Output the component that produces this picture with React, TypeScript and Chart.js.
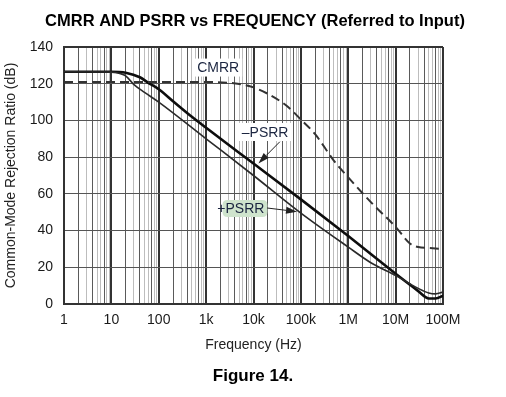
import React, { useEffect, useRef } from 'react';
import { Chart, registerables } from 'chart.js';

Chart.register(...registerables);

const TITLE = 'CMRR AND PSRR vs FREQUENCY (Referred to Input)';
const CAPTION = 'Figure 14.';
const X_TITLE = 'Frequency (Hz)';
const Y_TITLE = 'Common-Mode Rejection Ratio (dB)';

const X_DECADES = [1, 10, 100, 1e3, 1e4, 1e5, 1e6, 1e7, 1e8];
const X_TICK_LABELS = ['1', '10', '100', '1k', '10k', '100k', '1M', '10M', '100M'];
const Y_MIN = 0;
const Y_MAX = 140;
const Y_STEP = 20;

const CMRR_FREQ = [1, 10, 100, 1000, 3000, 5000, 10000, 20000, 50000, 100000, 200000, 500000, 1e6, 3e6, 1e7, 2e7, 3e7, 5e7, 1e8];
const CMRR_DB = [121, 121, 121, 121, 120.5, 119.8, 118, 114.5, 108, 100.5, 92.5, 78, 69, 55.5, 42, 33, 31, 30.5, 30];

const NPSRR_FREQ = [1, 10, 20, 40, 60, 100, 200, 500, 1000, 1e4, 1e5, 1e6, 1e7, 2e7, 3e7, 5e7, 7e7, 1e8];
const NPSRR_DB = [126.5, 126.5, 126, 123.5, 120.5, 117, 110.5, 102, 96, 76.5, 57, 37, 16.5, 10.5, 7, 3, 3, 4.5];

const PPSRR_FREQ = [1, 10, 15, 20, 30, 50, 100, 1000, 1e4, 1e5, 1e6, 3e6, 1e7, 2e7, 3e7, 5e7, 7e7, 1e8];
const PPSRR_DB = [126.5, 126.3, 125.6, 124.3, 119.5, 115.3, 110, 90, 70, 49.5, 31, 22.5, 15.5, 11, 8.5, 6, 5.5, 6.5];

// label anchors in data space: [freq, dB]
const CMRR_LABEL_AT = [1800, 128.8];
const NPSRR_LABEL_AT = [17600, 93.7];
const NPSRR_ARROW = [[36000, 88.4], [12700, 76.6]];
const PPSRR_LABEL_AT = [6600, 52];
const PPSRR_ARROW = [[19400, 52.3], [83000, 50.3]];

const FONT = '"Liberation Sans", Arial, Helvetica, sans-serif';

const GRID_VALUES: number[] = [];
for (let d = 1; d < 1e8; d *= 10) {
  for (let m = 1; m < 10; m++) GRID_VALUES.push(m * d);
}
GRID_VALUES.push(1e8);

function isDecade(v: number) {
  const lg = Math.log10(v);
  return Math.abs(lg - Math.round(lg)) < 1e-9;
}
function mantissa(v: number) {
  const p = Math.pow(10, Math.floor(Math.log10(v) + 1e-9));
  return Math.round(v / p);
}

function toPts(xs: number[], ys: number[]) {
  return xs.map((x, i) => ({ x, y: ys[i] }));
}

function drawArrow(ctx: CanvasRenderingContext2D, x1: number, y1: number, x2: number, y2: number) {
  const ang = Math.atan2(y2 - y1, x2 - x1);
  const len = 11;
  const w = 3.5;
  ctx.strokeStyle = '#222';
  ctx.fillStyle = '#222';
  ctx.lineWidth = 1;
  ctx.beginPath();
  ctx.moveTo(x1, y1);
  ctx.lineTo(x2 - Math.cos(ang) * len, y2 - Math.sin(ang) * len);
  ctx.stroke();
  ctx.beginPath();
  ctx.moveTo(x2, y2);
  ctx.lineTo(x2 - Math.cos(ang) * len - Math.sin(ang) * w, y2 - Math.sin(ang) * len + Math.cos(ang) * w);
  ctx.lineTo(x2 - Math.cos(ang) * len + Math.sin(ang) * w, y2 - Math.sin(ang) * len - Math.cos(ang) * w);
  ctx.closePath();
  ctx.fill();
}

function roundRect(ctx: CanvasRenderingContext2D, x: number, y: number, w: number, h: number, r: number) {
  ctx.beginPath();
  ctx.moveTo(x + r, y);
  ctx.lineTo(x + w - r, y);
  ctx.quadraticCurveTo(x + w, y, x + w, y + r);
  ctx.lineTo(x + w, y + h - r);
  ctx.quadraticCurveTo(x + w, y + h, x + w - r, y + h);
  ctx.lineTo(x + r, y + h);
  ctx.quadraticCurveTo(x, y + h, x, y + h - r);
  ctx.lineTo(x, y + r);
  ctx.quadraticCurveTo(x, y, x + r, y);
  ctx.closePath();
}

const overlay = {
  id: 'overlay',
  afterDatasetsDraw(chart: any) {
    const { ctx, scales } = chart;
    const xs = scales.x;
    const ys = scales.y;
    const px = (f: number) => xs.getPixelForValue(f);
    const py = (v: number) => ys.getPixelForValue(v);
    ctx.save();
    ctx.font = `14px ${FONT}`;
    ctx.textBaseline = 'middle';
    ctx.textAlign = 'center';
    const labelColor = '#1b2540';

    // CMRR
    {
      const cx = px(CMRR_LABEL_AT[0]);
      const cy = py(CMRR_LABEL_AT[1]);
      const w = ctx.measureText('CMRR').width + 6;
      ctx.fillStyle = '#fff';
      ctx.fillRect(cx - w / 2, cy - 9, w, 18);
      ctx.fillStyle = labelColor;
      ctx.fillText('CMRR', cx, cy + 1);
    }
    // -PSRR
    {
      const cx = px(NPSRR_LABEL_AT[0]);
      const cy = py(NPSRR_LABEL_AT[1]);
      const t = '\u2013PSRR';
      const w = ctx.measureText(t).width + 6;
      ctx.fillStyle = '#fff';
      ctx.fillRect(cx - w / 2, cy - 9, w, 18);
      ctx.fillStyle = labelColor;
      ctx.fillText(t, cx, cy + 1);
      const a = NPSRR_ARROW;
      drawArrow(ctx, px(a[0][0]), py(a[0][1]), px(a[1][0]), py(a[1][1]));
    }
    // +PSRR
    {
      const cx = px(PPSRR_LABEL_AT[0]);
      const cy = py(PPSRR_LABEL_AT[1]);
      const tw = ctx.measureText('PSRR').width;
      const pw = ctx.measureText('+').width;
      const bx = cx - tw / 2 - 3;
      ctx.fillStyle = '#cfe4cd';
      roundRect(ctx, bx, cy - 8.5, tw + 6, 17, 5);
      ctx.fill();
      ctx.fillStyle = labelColor;
      ctx.textAlign = 'left';
      ctx.fillText('+PSRR', cx - tw / 2 - pw, cy + 1);
      const a = PPSRR_ARROW;
      drawArrow(ctx, px(a[0][0]), py(a[0][1]), px(a[1][0]), py(a[1][1]));
    }
    ctx.restore();
  },
  afterDraw(chart: any) {
    const { ctx } = chart;
    ctx.save();
    ctx.fillStyle = '#000';
    ctx.textAlign = 'center';
    ctx.textBaseline = 'middle';
    ctx.font = `bold 16.5px ${FONT}`;
    ctx.fillText(TITLE, 255, 21);
    ctx.font = `bold 17px ${FONT}`;
    ctx.fillText(CAPTION, 253, 376);
    ctx.restore();
  },
};

export default function App() {
  const ref = useRef<HTMLCanvasElement | null>(null);
  useEffect(() => {
    if (!ref.current) return;
    const chart = new Chart(ref.current, {
      type: 'line',
      data: {
        datasets: [
          {
            label: 'CMRR',
            data: toPts(CMRR_FREQ, CMRR_DB),
            borderColor: '#333',
            borderWidth: 2,
            borderDash: [9, 5],
            pointRadius: 0,
            cubicInterpolationMode: 'monotone',
            fill: false,
          },
          {
            label: '+PSRR',
            data: toPts(PPSRR_FREQ, PPSRR_DB),
            borderColor: '#2a2a2a',
            borderWidth: 1.6,
            pointRadius: 0,
            cubicInterpolationMode: 'monotone',
            fill: false,
          },
          {
            label: '-PSRR',
            data: toPts(NPSRR_FREQ, NPSRR_DB),
            borderColor: '#0d0d0d',
            borderWidth: 2.6,
            pointRadius: 0,
            cubicInterpolationMode: 'monotone',
            fill: false,
          },
        ],
      },
      options: {
        responsive: false,
        devicePixelRatio: 1,
        animation: false,
        layout: { padding: { top: 47, right: 63, left: 0, bottom: 0 } },
        plugins: {
          legend: { display: false },
          tooltip: { enabled: false },
          title: { display: false },
        },
        scales: {
          x: {
            type: 'logarithmic',
            min: 1,
            max: 1e8,
            afterFit: (s: any) => {
              s.height = 93;
            },
            afterBuildTicks: (s: any) => {
              s.ticks = GRID_VALUES.map((v) => ({ value: v }));
            },
            ticks: {
              autoSkip: false,
              maxRotation: 0,
              minRotation: 0,
              padding: 8,
              color: '#1a1a1a',
              font: { family: FONT, size: 14 },
              callback: (value: any) => {
                const i = X_DECADES.findIndex((d) => Math.abs(d - Number(value)) < 1e-6 * d);
                return i >= 0 ? X_TICK_LABELS[i] : '';
              },
            },
            grid: {
              drawTicks: false,
              color: (c: any) => {
                const v = c.tick ? c.tick.value : 1;
                if (isDecade(v)) return '#333';
                const m = mantissa(v);
                return [2, 4, 7].includes(m) ? '#5a5a5a' : '#bdbdbd';
              },
              lineWidth: (c: any) => {
                const v = c.tick ? c.tick.value : 1;
                return isDecade(v) ? 2 : 1;
              },
            },
            border: { display: true, color: '#333', width: 2 },
            title: {
              display: true,
              text: X_TITLE,
              color: '#222',
              font: { family: FONT, size: 14 },
              padding: { top: 0, bottom: 43 },
            },
          },
          y: {
            min: Y_MIN,
            max: Y_MAX,
            afterFit: (s: any) => {
              s.width = 64;
            },
            ticks: {
              stepSize: Y_STEP,
              padding: 11,
              color: '#1a1a1a',
              font: { family: FONT, size: 14 },
            },
            grid: {
              drawTicks: false,
              color: (c: any) => (c.tick && (c.tick.value === Y_MAX || c.tick.value === Y_MIN) ? '#333' : '#555'),
              lineWidth: (c: any) => (c.tick && (c.tick.value === Y_MAX || c.tick.value === Y_MIN) ? 2 : 1),
            },
            border: { display: true, color: '#333', width: 2 },
            title: {
              display: true,
              text: Y_TITLE,
              color: '#222',
              font: { family: FONT, size: 14 },
              padding: { top: 3, bottom: 0 },
            },
          },
        },
      },
      plugins: [overlay],
    } as any);
    return () => chart.destroy();
  }, []);
  return (
    <div style={{ position: 'absolute', left: 0, top: 0, width: 506, height: 397, background: '#fff' }}>
      <canvas ref={ref} width={506} height={397} style={{ display: 'block' }} />
    </div>
  );
}
